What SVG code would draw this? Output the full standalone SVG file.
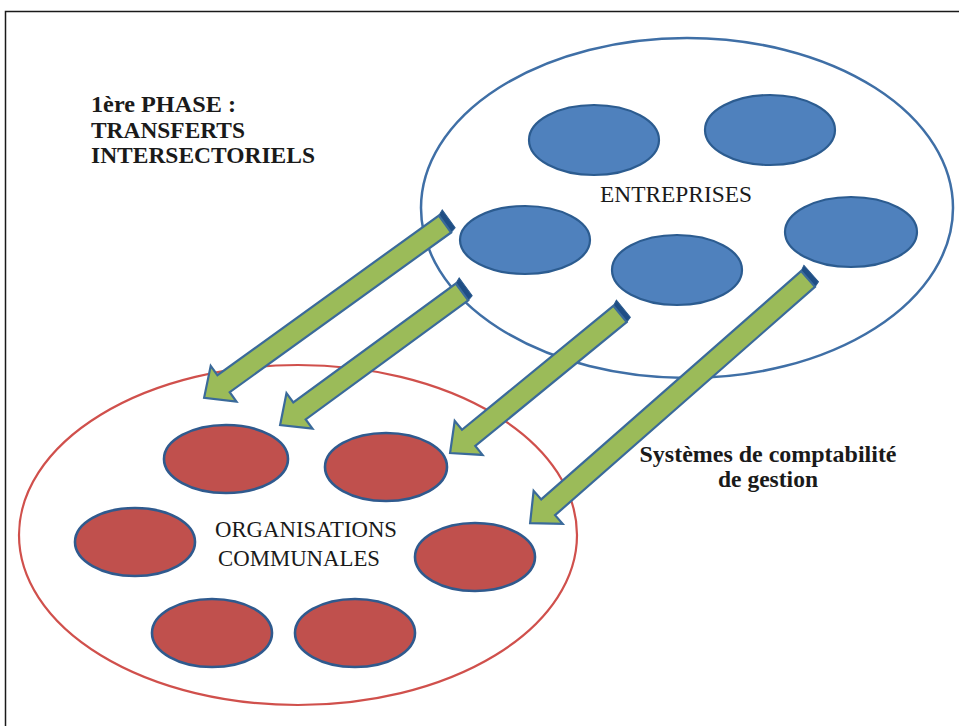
<svg xmlns="http://www.w3.org/2000/svg" width="959" height="726" viewBox="0 0 959 726">
<defs>
<style>
.bg{fill:#ffffff}
.frame{fill:none;stroke:#1a1a1a;stroke-width:1.5}
.big-blue{fill:none;stroke:#3f6fa6;stroke-width:2.5}
.big-red{fill:none;stroke:#d0504c;stroke-width:2.2}
.eb{fill:#4f81bd;stroke:#2c5c90;stroke-width:2.2}
.er{fill:#c0504d;stroke:#2f5a8e;stroke-width:2.6}
.arrow{fill:#9bbb59;stroke:#3a6a9a;stroke-width:2.2;stroke-linejoin:miter}
.cap{fill:#1f4e85;stroke:#2a5a8e;stroke-width:1}
.t{font-family:"Liberation Serif","Times New Roman",serif;fill:#1a1a1a}
.b{font-weight:bold}
</style>
</defs>
<rect class="bg" x="0" y="0" width="959" height="726"/>
<path class="frame" d="M5.5,726 V11.5 H959"/>

<g id="entreprises">
<ellipse class="big-blue" cx="687" cy="208" rx="266" ry="170"/>
<ellipse class="eb" cx="594" cy="140" rx="65" ry="35"/>
<ellipse class="eb" cx="770" cy="130" rx="65" ry="35"/>
<ellipse class="eb" cx="525" cy="240" rx="65" ry="34"/>
<ellipse class="eb" cx="677" cy="270" rx="65" ry="35"/>
<ellipse class="eb" cx="851" cy="232" rx="66" ry="35"/>
<text class="t" x="676" y="202" font-size="23" text-anchor="middle" textLength="152" lengthAdjust="spacingAndGlyphs">ENTREPRISES</text>
</g>

<g id="organisations">
<ellipse class="big-red" cx="298" cy="535" rx="279" ry="170"/>
<ellipse class="er" cx="226" cy="459" rx="62" ry="34"/>
<ellipse class="er" cx="386" cy="467" rx="61" ry="34"/>
<ellipse class="er" cx="135" cy="542" rx="60" ry="34"/>
<ellipse class="er" cx="475" cy="557" rx="60" ry="34"/>
<ellipse class="er" cx="212" cy="633" rx="60" ry="34"/>
<ellipse class="er" cx="355" cy="633" rx="60" ry="34"/>
<text class="t" x="306" y="537" font-size="23" text-anchor="middle" textLength="182" lengthAdjust="spacingAndGlyphs">ORGANISATIONS</text>
<text class="t" x="299" y="566" font-size="23" text-anchor="middle" textLength="162" lengthAdjust="spacingAndGlyphs">COMMUNALES</text>
</g>

<g id="connectors">
<g transform="translate(445,224) rotate(144.2)">
<polygon class="cap" points="0,-10.5 -6,-9 -6,13 0,10.5"/>
<path class="arrow" d="M0,-10.5 H273 V-22 L297,0 L273,22 V10.5 H0 Z"/>
</g>
<g transform="translate(462,292) rotate(143.8)">
<polygon class="cap" points="0,-10.5 -6,-9 -6,13 0,10.5"/>
<path class="arrow" d="M0,-10.5 H201.4 V-22 L225.4,0 L201.4,22 V10.5 H0 Z"/>
</g>
<g transform="translate(620,314) rotate(140.7)">
<polygon class="cap" points="0,-10.5 -6,-9 -6,13 0,10.5"/>
<path class="arrow" d="M0,-10.5 H195.6 V-22 L219.6,0 L195.6,22 V10.5 H0 Z"/>
</g>
<g transform="translate(808,279) rotate(138.7)">
<polygon class="cap" points="0,-10.5 -6,-9 -6,13 0,10.5"/>
<path class="arrow" d="M0,-10.5 H345.9 V-22 L369.9,0 L345.9,22 V10.5 H0 Z"/>
</g>
</g>

<g id="phase-label">
<text class="t b" x="91" y="112" font-size="23.5" textLength="145" lengthAdjust="spacingAndGlyphs">1ère PHASE :</text>
<text class="t b" x="91" y="138" font-size="23.5" textLength="154" lengthAdjust="spacingAndGlyphs">TRANSFERTS</text>
<text class="t b" x="91" y="163" font-size="23.5" textLength="224" lengthAdjust="spacingAndGlyphs">INTERSECTORIELS</text>
</g>

<g id="systemes-label">
<text class="t b" x="768" y="462" font-size="23.5" text-anchor="middle" textLength="257" lengthAdjust="spacingAndGlyphs">Systèmes de comptabilité</text>
<text class="t b" x="768" y="487" font-size="23.5" text-anchor="middle" textLength="100" lengthAdjust="spacingAndGlyphs">de gestion</text>
</g>
</svg>
